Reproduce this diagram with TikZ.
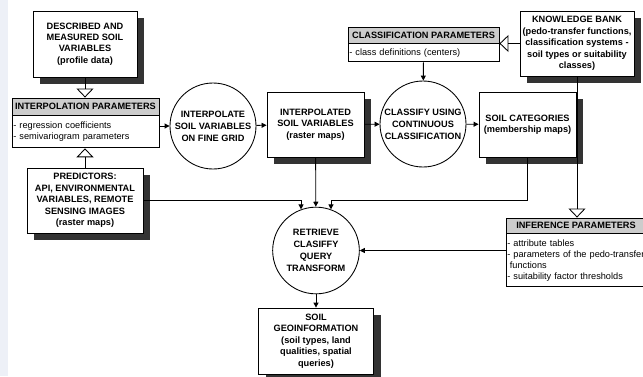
\documentclass[tikz,border=0pt]{standalone}
\usepackage{fontspec}
\setmainfont{Liberation Sans}
\usetikzlibrary{arrows.meta,shadows}
\definecolor{headgray}{RGB}{204,204,204}
\definecolor{stripblue}{RGB}{237,240,247}

\begin{document}
\begin{tikzpicture}[x=0.75pt, y=-0.75pt, line width=0.65pt]
        \tikzstyle{product} = [rectangle, draw=black, fill=white, align=center, inner sep=1pt, font=\fontsize{6.9pt}{8.6pt}\selectfont\bfseries, drop shadow={shadow xshift=5.25pt, shadow yshift=-5.25pt, fill=black!80, opacity=1}]
        \tikzstyle{process} = [circle, draw=black, fill=white, minimum size=64.5pt, inner sep=0pt, align=center, font=\fontsize{6.9pt}{8.9pt}\selectfont\bfseries]
        \tikzstyle{paramhead} = [rectangle, draw=black, fill=headgray, inner sep=0pt, font=\fontsize{6.9pt}{8.6pt}\selectfont\bfseries]
        \tikzstyle{paramlist} = [rectangle, draw=black, fill=white, anchor=north, inner xsep=1pt, inner ysep=0pt, align=left, font=\fontsize{6.9pt}{8.25pt}\selectfont]
        \tikzstyle{arrow} = [-{Triangle[length=3.75pt, width=3.75pt]}]
        \tikzstyle{feed} = [-{Triangle[open, length=6.75pt, width=12.75pt]}]

        \useasboundingbox (0,0) rectangle (643,376);
        \fill [stripblue] (0,0) rectangle (8,376);

        \node (described) [product, minimum width=78pt, minimum height=49.5pt] at (85,44) {DESCRIBED AND\\MEASURED SOIL\\VARIABLES\\(profile data)};
        \node (interphead) [paramhead, minimum width=110.25pt, minimum height=12.75pt] at (85.5,106.5) {INTERPOLATION PARAMETERS};
        \node (interplist) [paramlist, text width=108.25pt, minimum height=24pt] at (interphead.south) {- regression coefficients\\- semivariogram parameters};
        \node (predictors) [product, minimum width=87pt, minimum height=48.75pt] at (85,200.5) {PREDICTORS:\\API, ENVIRONMENTAL\\VARIABLES, REMOTE\\SENSING IMAGES\\(raster maps)};

        \node (interpolate) [process] at (213,126) {INTERPOLATE\\SOIL VARIABLES\\ON FINE GRID};
        \node (interpolated) [product, minimum width=72.75pt, minimum height=48.75pt] at (315.5,124.5) {INTERPOLATED\\SOIL VARIABLES\\(raster maps)};
        \node (classify) [process] at (423,124) {CLASSIFY USING\\CONTINUOUS\\CLASSIFICATION};
        \node (soilcat) [product, minimum width=72.75pt, minimum height=48.75pt] at (527.5,124.5) {SOIL CATEGORIES\\(membership maps)};

        \node (classhead) [paramhead, minimum width=113.25pt, minimum height=12pt] at (423.5,35) {CLASSIFICATION PARAMETERS};
        \node (classlist) [paramlist, text width=111.25pt, minimum height=13.5pt] at (classhead.south) {- class definitions (centers)};
        \node (knowledge) [product, minimum width=85.5pt, minimum height=48.75pt] at (577,43.5) {KNOWLEDGE BANK\\(pedo-transfer functions,\\classification systems -\\soil types or suitability\\classes)};

        \node (retrieve) [process, minimum size=65pt] at (316,250.5) {RETRIEVE\\CLASIFFY\\QUERY\\TRANSFORM};
        \node (soilgeo) [product, node distance=67.9pt, below of=retrieve, minimum width=86.25pt, minimum height=49.5pt] {SOIL\\GEOINFORMATION\\(soil types, land\\qualities, spatial\\queries)};

        \node (inferhead) [paramhead, minimum width=105pt, minimum height=11.25pt] at (576,225.5) {INFERENCE PARAMETERS};
        \node (inferlist) [paramlist, text width=103pt, minimum height=39.75pt] at (inferhead.south) {- attribute tables\\- parameters of the pedo-transfer\\\hspace*{0.28em}functions\\- suitability factor thresholds};

        \draw [feed] (described.south) -- (described.south |- interphead.north);
        \draw [feed] (predictors.north) -- (predictors.north |- interplist.south);
        \draw [feed] (knowledge.west) -- (knowledge.west -| classhead.east);
        \draw [feed] (knowledge.south) -- (knowledge.south |- inferhead.north);

        \draw [arrow] (interplist.east |- interpolate.west) -- (interpolate.west);
        \draw [arrow] (interpolate) -- (interpolated);
        \draw [arrow] (interpolated) -- (classify);
        \draw [arrow] (classify) -- (soilcat);
        \draw [arrow] (classlist) -- (classify);
        \draw [arrow] (interpolated) -- (retrieve);
        \draw [arrow] (predictors.east) -| (retrieve.110);
        \draw [arrow] (soilcat.south) -- ++(0,43) -| (retrieve.70);
        \draw [arrow] (inferlist.west |- retrieve.east) -- (retrieve.east);
        \draw [arrow] (retrieve) -- (soilgeo);
    \end{tikzpicture}
\end{document}
